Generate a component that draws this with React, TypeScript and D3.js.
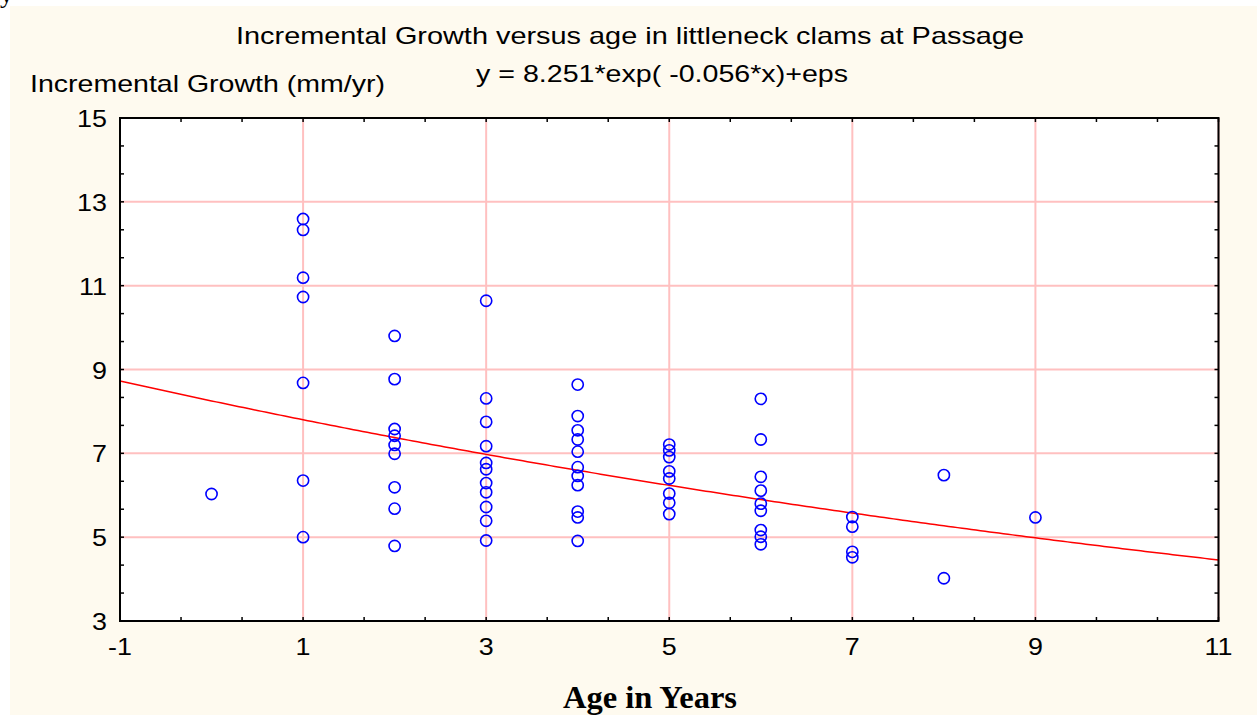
import React from "react";
import * as d3 from "d3";

const ages: number[] = [
  0,
  1, 1, 1, 1, 1, 1, 1,
  2, 2, 2, 2, 2, 2, 2, 2, 2,
  3, 3, 3, 3, 3, 3, 3, 3, 3, 3, 3,
  4, 4, 4, 4, 4, 4, 4, 4, 4, 4, 4,
  5, 5, 5, 5, 5, 5, 5, 5,
  6, 6, 6, 6, 6, 6, 6, 6, 6,
  7, 7, 7, 7,
  8, 8,
  9,
];
const growth: number[] = [
  6.03,
  12.59, 12.33, 11.19, 10.73, 8.68, 6.35, 5.0,
  9.8, 8.77, 7.58, 7.42, 7.2, 6.99, 6.19, 5.68, 4.79,
  10.64, 8.31, 7.75, 7.17, 6.77, 6.62, 6.29, 6.07, 5.72, 5.39, 4.92,
  8.64, 7.89, 7.55, 7.33, 7.04, 6.67, 6.46, 6.24, 5.61, 5.47, 4.91,
  7.21, 7.07, 6.91, 6.57, 6.4, 6.04, 5.82, 5.55,
  8.3, 7.33, 6.44, 6.11, 5.8, 5.63, 5.17, 5.01, 4.83,
  5.48, 5.25, 4.65, 4.52,
  6.48, 4.02,
  5.47,
];
const xTicks: number[] = [-1, 1, 3, 5, 7, 9, 11];
const yTicks: number[] = [3, 5, 7, 9, 11, 13, 15];
const fitA = 8.251;
const fitB = -0.056;
const title = "Incremental Growth versus age in littleneck clams at Passage";
const equation = "y = 8.251*exp( -0.056*x)+eps";
const yLabel = "Incremental Growth (mm/yr)";
const xLabel = "Age in Years";

export default function App() {
  const W = 1257, H = 715;
  const L = 120, R = 1218.5, T = 118, B = 621;
  const x = d3.scaleLinear().domain([-1, 11]).range([L, R]);
  const y = d3.scaleLinear().domain([3, 15]).range([B, T]);
  const minorX = d3.range(-1, 11.001, 2 / 3);
  const minorY = d3.range(3, 15.001, 2 / 3);
  const curveX = d3.range(-1, 11.0001, 0.05);
  const line = d3
    .line<number>()
    .x((d) => x(d))
    .y((d) => y(fitA * Math.exp(fitB * d)));
  const sans = "'Liberation Sans', Arial, sans-serif";
  const grid = "#FFC0C0";
  return (
    <svg
      width={W}
      height={H}
      style={{ position: "absolute", left: 0, top: 0, display: "block" }}
    >
      <rect x={0} y={0} width={W} height={H} fill="#ffffff" />
      <rect x={10} y={6} width={W - 10} height={H - 6} fill="#FEFAEF" />
      <text x={0} y={3} fontFamily="'Liberation Serif', serif" fontSize={26} fill="#000">
        y
      </text>
      <rect x={L} y={T} width={R - L} height={B - T} fill="#ffffff" />
      {xTicks.map((t) => (
        <line key={"gx" + t} x1={x(t)} x2={x(t)} y1={T} y2={B} stroke={grid} strokeWidth={2} />
      ))}
      {yTicks.map((t) => (
        <line key={"gy" + t} x1={L} x2={R} y1={y(t)} y2={y(t)} stroke={grid} strokeWidth={2} />
      ))}
      <path d={line(curveX) || ""} fill="none" stroke="#FF0000" strokeWidth={1.5} />
      {ages.map((a, i) => (
        <circle
          key={"p" + i}
          cx={x(a)}
          cy={y(growth[i])}
          r={5.6}
          fill="none"
          stroke="#0000FF"
          strokeWidth={1.6}
        />
      ))}
      <rect x={L} y={T} width={R - L} height={B - T} fill="none" stroke="#000" strokeWidth={2} />
      {minorX.map((t, i) => (
        <g key={"tx" + i}>
          <line x1={x(t)} x2={x(t)} y1={B} y2={B - 4} stroke="#000" strokeWidth={1.5} />
          <line x1={x(t)} x2={x(t)} y1={T} y2={T + 4} stroke="#000" strokeWidth={1.5} />
        </g>
      ))}
      {minorY.map((t, i) => (
        <g key={"ty" + i}>
          <line x1={L} x2={L + 4} y1={y(t)} y2={y(t)} stroke="#000" strokeWidth={1.5} />
          <line x1={R} x2={R - 4} y1={y(t)} y2={y(t)} stroke="#000" strokeWidth={1.5} />
        </g>
      ))}
      {yTicks.map((t) => (
        <g key={"ly" + t} transform={`translate(${L - 13},${y(t) + 9}) scale(1.12,1)`}>
          <text x={0} y={0} textAnchor="end" fontFamily={sans} fontSize={24} fill="#000">
            {t}
          </text>
        </g>
      ))}
      {xTicks.map((t) => (
        <g key={"lx" + t} transform={`translate(${x(t)},655) scale(1.12,1)`}>
          <text x={0} y={0} textAnchor="middle" fontFamily={sans} fontSize={24} fill="#000">
            {t}
          </text>
        </g>
      ))}
      <text
        x={236}
        y={44}
        fontFamily={sans}
        fontSize={24}
        textLength={788}
        lengthAdjust="spacingAndGlyphs"
        fill="#000"
      >
        {title}
      </text>
      <text
        x={476}
        y={82}
        fontFamily={sans}
        fontSize={24}
        textLength={372}
        lengthAdjust="spacingAndGlyphs"
        fill="#000"
      >
        {equation}
      </text>
      <text
        x={30}
        y={92}
        fontFamily={sans}
        fontSize={24}
        textLength={355}
        lengthAdjust="spacingAndGlyphs"
        fill="#000"
      >
        {yLabel}
      </text>
      <text
        x={563}
        y={708}
        fontFamily="'Liberation Serif', 'Times New Roman', serif"
        fontWeight="bold"
        fontSize={31}
        textLength={174}
        lengthAdjust="spacingAndGlyphs"
        fill="#000"
      >
        {xLabel}
      </text>
    </svg>
  );
}
